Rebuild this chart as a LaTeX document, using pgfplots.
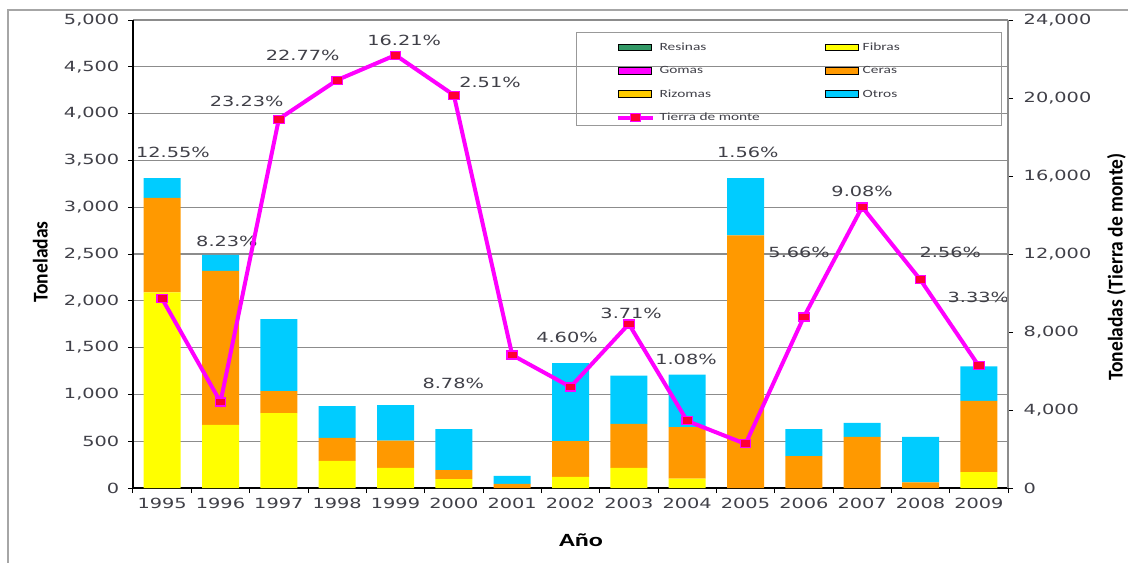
\documentclass[border=0pt]{standalone}
\usepackage{fontspec}
\setmainfont{Carlito}
\newfontfamily\tickfont[FakeStretch=1.38]{DejaVu Sans}
\newfontfamily\legfont[FakeStretch=1.4]{Carlito}
\newfontfamily\ylabfont[FakeStretch=0.93]{Carlito}
\newfontfamily\xlabfont[FakeStretch=1.4]{Carlito}
\usepackage{pgfplots}
\pgfplotsset{compat=1.18}
\usepackage{pgfplotstable}

\definecolor{cResinas}{HTML}{339966}
\definecolor{cFibras}{HTML}{FFFF00}
\definecolor{cGomas}{HTML}{FF00FF}
\definecolor{cCeras}{HTML}{FF9900}
\definecolor{cRizomas}{HTML}{FFCC00}
\definecolor{cOtros}{HTML}{00CCFF}
\definecolor{cMark}{HTML}{FF0033}
\definecolor{txt}{HTML}{404048}
\definecolor{gridc}{HTML}{8C8C8C}

% toneladas por año (barras apiladas)
\pgfplotstableread{
x fibras ceras otros
0  2090 1010 210
1  675  1645 170
2  800  235  770
3  290  245  340
4  215  290  380
5  95   95   440
6  0    45   85
7  120  380  835
8  215  470  515
9  100  550  560
10 0    2700 610
11 0    340  290
12 0    545  150
13 0    60   485
14 170  760  370
}\bars

% tierra de monte (eje derecho)
\pgfplotstableread{
x tierra
0  9700
1  4410
2  18920
3  20920
4  22200
5  20150
6  6820
7  5180
8  8410
9  3440
10 2260
11 8770
12 14410
13 10670
14 6260
}\tierra

\pgfplotsset{
  legbar/.style={legend image code/.code={\fill[##1] (0pt,-2.6pt) rectangle (24.75pt,2.6pt);}},
  legline/.style={legend image code/.code={\draw[mark repeat=2,mark phase=2,##1] plot coordinates {(0pt,0pt) (13pt,0pt) (26pt,0pt)};}},
}
\tikzset{pct/.style={font=\tickfont\fontsize{10.5pt}{12pt}\selectfont, text=txt, inner sep=0pt}}

\begin{document}
\begin{tikzpicture}
\path[use as bounding box] (0,0) rectangle (846pt,421.5pt);
\draw[black!35, line width=1.5pt] (6pt,-2pt) -- (6pt,414pt) -- (848pt,414pt);

\begin{axis}[
  at={(99.75pt,55.5pt)}, anchor=south west,
  scale only axis, width=656.25pt, height=351pt,
  xmin=-0.5, xmax=14.5, ymin=0, ymax=5000,
  ybar stacked, bar width=27.75pt,
  axis x line*=bottom, axis y line*=left,
  axis line style={black, line width=0.9pt},
  xtick={0,...,14},
  xticklabels={1995,1996,1997,1998,1999,2000,2001,2002,2003,2004,2005,2006,2007,2008,2009},
  minor xtick={-0.5,0.5,...,14.5},
  major x tick style={draw=none},
  ytick={0,500,...,5000},
  tick align=outside,
  major tick length=3.75pt, minor tick length=3.75pt,
  tick style={black, line width=0.75pt},
  ymajorgrids, grid style={gridc, line width=1pt},
  /pgf/number format/1000 sep={,},
  /pgf/number format/assume math mode=true,
  ticklabel style={font=\tickfont\fontsize{10.5pt}{12pt}\selectfont, text=txt},
  yticklabel style={xshift=-3pt},
  xlabel={Año},
  xlabel style={font=\xlabfont\bfseries\fontsize{14pt}{16pt}\selectfont, at={(axis description cs:0.512,-0.111)}, anchor=center},
  ylabel={Toneladas},
  ylabel style={font=\ylabfont\bfseries\fontsize{15.75pt}{18pt}\selectfont, text=black, at={(axis description cs:-0.106,0.483)}, anchor=center},
]
\addplot[fill=cFibras, draw=none] table[x=x,y=fibras]{\bars};
\addplot[fill=cCeras, draw=none] table[x=x,y=ceras]{\bars};
\addplot[fill=cOtros, draw=none] table[x=x,y=otros]{\bars};

\node[pct] at (axis cs:0.185,3590) {12.55\%};
\node[pct] at (axis cs:1.11,2639) {8.23\%};
\node[pct] at (axis cs:1.45,4135) {23.23\%};
\node[pct] at (axis cs:2.41,4621) {22.77\%};
\node[pct] at (axis cs:4.15,4786) {16.21\%};
\node[pct] at (axis cs:5.62,4338) {2.51\%};
\node[pct] at (axis cs:4.99,1122) {8.78\%};
\node[pct] at (axis cs:6.94,1613) {4.60\%};
\node[pct] at (axis cs:8.04,1870) {3.71\%};
\node[pct] at (axis cs:8.98,1378) {1.08\%};
\node[pct] at (axis cs:10.04,3590) {1.56\%};
\node[pct] at (axis cs:12.0,3173) {9.08\%};
\node[pct] at (axis cs:10.92,2521) {5.66\%};
\node[pct] at (axis cs:13.51,2521) {2.56\%};
\node[pct] at (axis cs:13.99,2040) {3.33\%};

\draw[black!40, line width=0.9pt] (axis description cs:0.507,0.774) rectangle (axis description cs:0.993,0.974);
\end{axis}

\begin{axis}[
  at={(99.75pt,55.5pt)}, anchor=south west,
  scale only axis, width=656.25pt, height=351pt,
  xmin=-0.5, xmax=14.5, ymin=0, ymax=24000,
  axis x line=none, axis y line*=right,
  axis line style={gridc, line width=1pt},
  ytick={0,4000,...,24000},
  scaled y ticks=false,
  tick align=outside, major tick length=3.75pt,
  tick style={black, line width=0.75pt},
  /pgf/number format/fixed,
  /pgf/number format/1000 sep={,},
  /pgf/number format/assume math mode=true,
  yticklabel style={font=\tickfont\fontsize{10.5pt}{12pt}\selectfont, text=txt, xshift=4.5pt},
  ylabel={Toneladas (Tierra de monte)},
  ylabel style={font=\ylabfont\bfseries\fontsize{15.75pt}{18pt}\selectfont, text=black, at={(axis description cs:1.124,0.472)}, anchor=center},
  legend columns=2,
  legend cell align=left,
  legend style={draw=none, fill=none, at={(axis description cs:0.552,0.953)}, anchor=north west,
    inner sep=0pt, font=\legfont\fontsize{8.25pt}{9pt}\selectfont, text=txt,
    row sep=10.1pt,
    nodes={inner sep=0pt, text height=6pt, text depth=1.5pt},
    /tikz/every odd column/.append style={column sep=3.5pt},
    /tikz/every even column/.append style={column sep=48.5pt}},
]
\addlegendimage{legbar, fill=cResinas}\addlegendentry{Resinas}
\addlegendimage{legbar, fill=cFibras}\addlegendentry{Fibras}
\addlegendimage{legbar, fill=cGomas}\addlegendentry{Gomas}
\addlegendimage{legbar, fill=cCeras}\addlegendentry{Ceras}
\addlegendimage{legbar, fill=cRizomas}\addlegendentry{Rizomas}
\addlegendimage{legbar, fill=cOtros}\addlegendentry{Otros}
\addplot[legline, color=cGomas, line width=3pt, mark=square*,
  mark options={fill=cMark, draw=cGomas, line width=0.8pt, xscale=1.3}, mark size=3pt]
  table[x=x,y=tierra]{\tierra};
\addlegendentry{Tierra de monte}
\end{axis}
\end{tikzpicture}
\end{document}
